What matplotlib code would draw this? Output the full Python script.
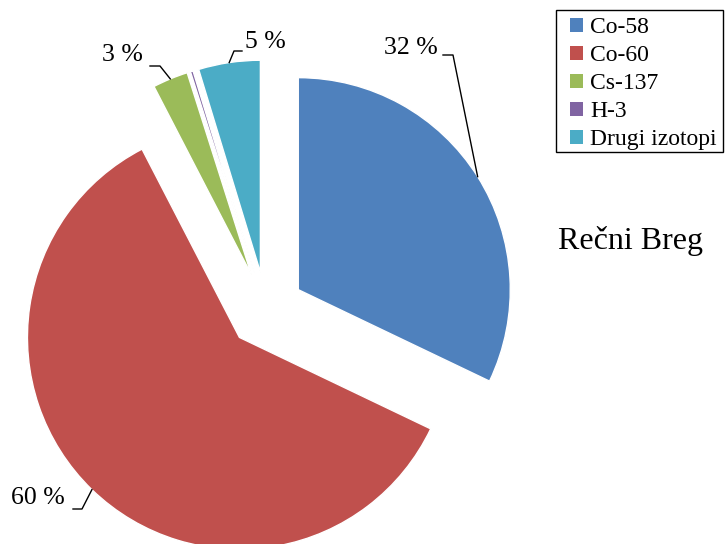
import numpy as np
import matplotlib.pyplot as plt
from matplotlib.patches import Patch, Rectangle

plt.rcParams['font.family'] = ['Liberation Serif', 'DejaVu Serif']

izotopi = ['Co-58', 'Co-60', 'Cs-137', 'H-3', 'Drugi izotopi']
udeli = [32.1, 60.3, 2.7, 0.2, 4.7]
oznake = ['32 %', '60 %', '3 %', '', '5 %']
boje = ['#4F81BD', '#C0504D', '#9BBB59', '#8064A2', '#4BACC6']

W, H = 725, 544
CX, CY, R = 266, 310, 212


def px(x, y):
    # pixel position -> data units (radius = 1)
    return (x - CX) / R, (CY - y) / R


fig = plt.figure(figsize=(W / 100, H / 100), dpi=100)
ax = fig.add_axes([0, 0, 1, 1])

wedges, _ = ax.pie(udeli, colors=boje, startangle=90, counterclock=False,
                   explode=[0.18] * len(udeli), radius=1,
                   wedgeprops=dict(edgecolor='white', linewidth=1.0))

# label positions (pixels) and bend points of the leader lines
tekst_pos = [(411, 48), (38, 498), (122, 55), None, (265, 42)]
lom = [[(443, 55), (453, 55)], [(73, 509), (82, 509)],
       [(150, 66), (160, 66)], None, [(242, 51), (234, 51)]]
for w, t, tp, lm in zip(wedges, oznake, tekst_pos, lom):
    if tp is None:
        continue
    th = np.deg2rad((w.theta1 + w.theta2) / 2)
    cx, cy = w.center
    pts = [px(*p) for p in lm] + [(cx + np.cos(th), cy + np.sin(th))]
    xs, ys = zip(*pts)
    ax.plot(xs, ys, color='black', lw=1)
    tx, ty = px(*tp)
    ax.text(tx, ty, t, fontsize=18.5, ha='center', va='center')

ax.text(*px(630, 241), 'Rečni Breg', fontsize=23, ha='center', va='center')

ax.set_xlim(-CX / R, (W - CX) / R)
ax.set_ylim((CY - H) / R, CY / R)
ax.set_aspect('equal')
ax.axis('off')

# legend frame
fig.add_artist(Rectangle((556 / W, 1 - 152 / H), 167 / W, 142 / H,
                         transform=fig.transFigure, facecolor='none',
                         edgecolor='black', lw=1))
handles = [Patch(facecolor=c, edgecolor='none') for c in boje]
leg = fig.legend(handles, izotopi, loc='upper left',
                 bbox_to_anchor=(570 / W, 1 - 17 / H), fontsize=17,
                 frameon=False, handlelength=0.55, handleheight=0.55,
                 handletextpad=0.3, labelspacing=0.3,
                 borderpad=0, borderaxespad=0)

fig.savefig('out.png', dpi=100)
